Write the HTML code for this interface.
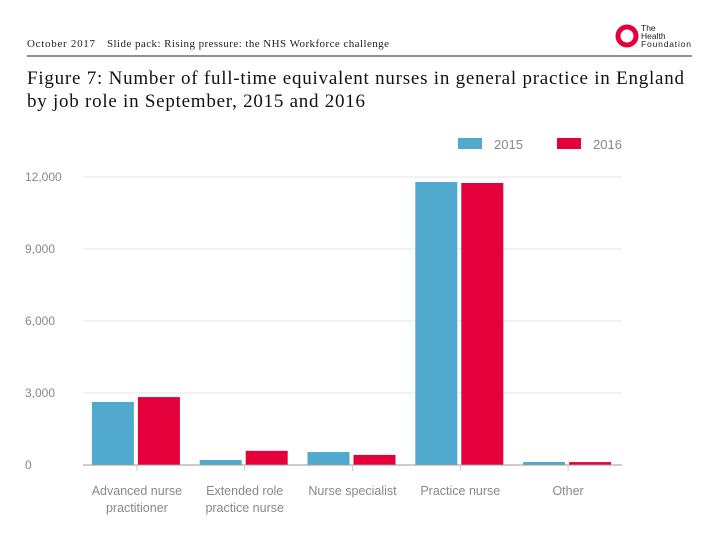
<!DOCTYPE html>
<html><head><meta charset="utf-8"><style>
body{margin:0;background:#fff;width:720px;height:540px;overflow:hidden;font-family:"Liberation Serif",serif}
</style></head><body>
<svg width="720" height="540">
<text x="27" y="47" font-size="11" fill="#222" font-family="Liberation Serif" textLength="68">October 2017</text>
<text x="107" y="47" font-size="11" fill="#222" font-family="Liberation Serif" textLength="282">Slide pack: Rising pressure: the NHS Workforce challenge</text>
<g>
<circle cx="627" cy="36" r="9" fill="none" stroke="#e4003b" stroke-width="5"/>
<text x="641" y="31" font-size="8.5" fill="#222" font-family="Liberation Sans">The</text>
<text x="641" y="39" font-size="8.5" fill="#222" font-family="Liberation Sans">Health</text>
<text x="641" y="47" font-size="8.5" fill="#222" font-family="Liberation Sans" textLength="50">Foundation</text>
</g>
<line x1="27" y1="56" x2="692" y2="56" stroke="#222" stroke-width="1"/>
<text x="27" y="84" font-size="19" fill="#111" font-family="Liberation Serif" textLength="657">Figure 7: Number of full-time equivalent nurses in general practice in England</text>
<text x="27" y="107" font-size="19" fill="#111" font-family="Liberation Serif" textLength="338">by job role in September, 2015 and 2016</text>
<g id="chart" font-family="Liberation Sans"></g>
</svg>
<script>
const categories=[["Advanced nurse","practitioner"],["Extended role","practice nurse"],["Nurse specialist"],["Practice nurse"],["Other"]];
const values2015=[2625,210,540,11790,125];
const values2016=[2830,590,420,11750,120];
const ticks=[0,3000,6000,9000,12000];
const tickLabels=["0","3,000","6,000","9,000","12,000"];
const seriesNames=["2015","2016"];
const colors=["#52a9ce","#e4003b"];
const g=document.getElementById('chart');
const NS="http://www.w3.org/2000/svg";
const x0=83,x1=622,y0=465,y1=177;
const y=v=>y0-(v/12000)*(y0-y1);
const bw=(x1-x0)/categories.length;
function mk(t,a,p){const e=document.createElementNS(NS,t);for(const k in a)e.setAttribute(k,a[k]);(p||g).appendChild(e);return e;}
ticks.forEach((t,i)=>{
  if(t>0){const l=mk('line',{x1:x0,x2:x1,y1:y(t),y2:y(t),stroke:'#e6e6e6','stroke-width':1});
  
  }
  const tx=mk('text',{x:25,y:y(t)+4,'font-size':12,fill:'#888'});tx.textContent=tickLabels[i];
  
  
});
[values2015,values2016].forEach((vals,s)=>{
  vals.forEach((v,i)=>{
    const cx=x0+bw*(i+0.5);
    const bx=s===0?cx-45:cx+1;
    const r=mk('rect',{x:bx,y:y(v),width:42,height:y0-y(v),fill:colors[s]});
    
    
  });
});
const ax=mk('line',{x1:x0,x2:x1,y1:y0,y2:y0,stroke:'#999','stroke-width':1});


categories.forEach((c,i)=>{
  const cx=x0+bw*(i+0.5);
  const tk=mk('line',{x1:cx,x2:cx,y1:y0,y2:y0+6,stroke:'#ccc'});
  
  
  c.forEach((ln,j)=>{
    const t=mk('text',{x:cx,y:495+j*17,'font-size':12.5,fill:'#888','text-anchor':'middle'});t.textContent=ln;
    
    
  });
});
const lx=[458,557];
seriesNames.forEach((n,s)=>{
  const r=mk('rect',{x:lx[s],y:138,width:24,height:11,fill:colors[s]});
  
  
  const t=mk('text',{x:lx[s]+36,y:149,'font-size':13,fill:'#888'});t.textContent=n;
  
  
});
</script>
</body></html>
